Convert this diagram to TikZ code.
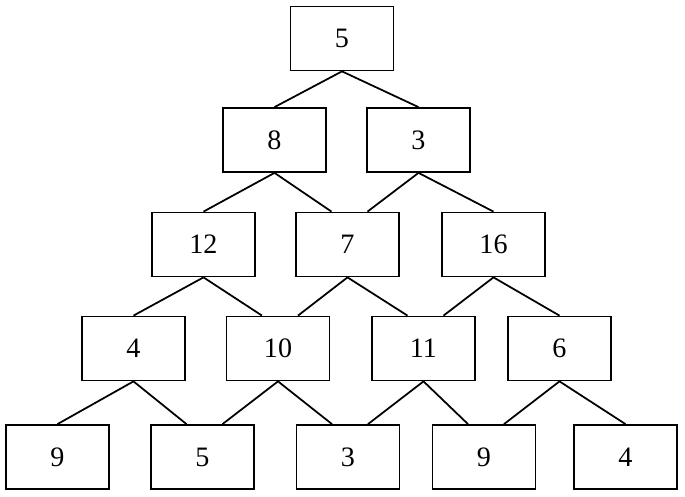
\documentclass[tikz,border=0pt]{standalone}
\usepackage{fontspec}
\setmainfont{Liberation Serif}
\begin{document}
\begin{tikzpicture}[box/.style={draw,rectangle,line width=1pt,minimum
          width=2.06cm,minimum height=1.28cm,inner sep=0pt,
          font=\fontsize{16}{19}\selectfont}]
      \useasboundingbox (0,0) rectangle (13.7,-9.94);
      \node[box] (a) at (6.84,-0.77) {5};
      \node[box] (b) at (5.49,-2.80) {8};
      \node[box] (c) at (8.37,-2.80) {3};
      \node[box] (d) at (4.07,-4.89) {12};
      \node[box] (e) at (6.95,-4.89) {7};
      \node[box] (f) at (9.87,-4.89) {16};
      \node[box] (g) at (2.67,-6.97) {4};
      \node[box] (h) at (5.56,-6.97) {10};
      \node[box] (i) at (8.47,-6.97) {11};
      \node[box] (j) at (11.19,-6.97) {6};
      \node[box] (k) at (1.15,-9.14) {9};
      \node[box] (l) at (4.05,-9.14) {5};
      \node[box] (m) at (6.96,-9.14) {3};
      \node[box] (n) at (9.68,-9.14) {9};
      \node[box] (o) at (12.51,-9.14) {4};
      \draw[-,line width=1pt] (a.south) to (b.north);
      \draw[-,line width=1pt] (a.south) to (c.north);
      \draw[-,line width=1pt] (b.south) to ([xshift=-3.2mm]e.north);
      \draw[-,line width=1pt] (b.south) to (d.north);
      \draw[-,line width=1pt] (c.south) to ([xshift=4mm]e.north);
      \draw[-,line width=1pt] (c.south) to (f.north);
      \draw[-,line width=1pt] (d.south) to (g.north);
      \draw[-,line width=1pt] (d.south) to ([xshift=-3.2mm]h.north);
      \draw[-,line width=1pt] (e.south) to ([xshift=4mm]h.north);
      \draw[-,line width=1pt] (e.south) to ([xshift=-3.2mm]i.north);
      \draw[-,line width=1pt] (f.south) to ([xshift=4mm]i.north);
      \draw[-,line width=1pt] (f.south) to (j.north);
      \draw[-,line width=1pt] (g.south) to (k.north);
      \draw[-,line width=1pt] (g.south) to ([xshift=-3.2mm]l.north);
      \draw[-,line width=1pt] (h.south) to ([xshift=4mm]l.north);
      \draw[-,line width=1pt] (h.south) to ([xshift=-3.2mm]m.north);
      \draw[-,line width=1pt] (i.south) to ([xshift=4mm]m.north);
      \draw[-,line width=1pt] (i.south) to ([xshift=-3.2mm]n.north);
      \draw[-,line width=1pt] (j.south) to ([xshift=4mm]n.north);
      \draw[-,line width=1pt] (j.south) to (o.north);
  \end{tikzpicture}
\end{document}
